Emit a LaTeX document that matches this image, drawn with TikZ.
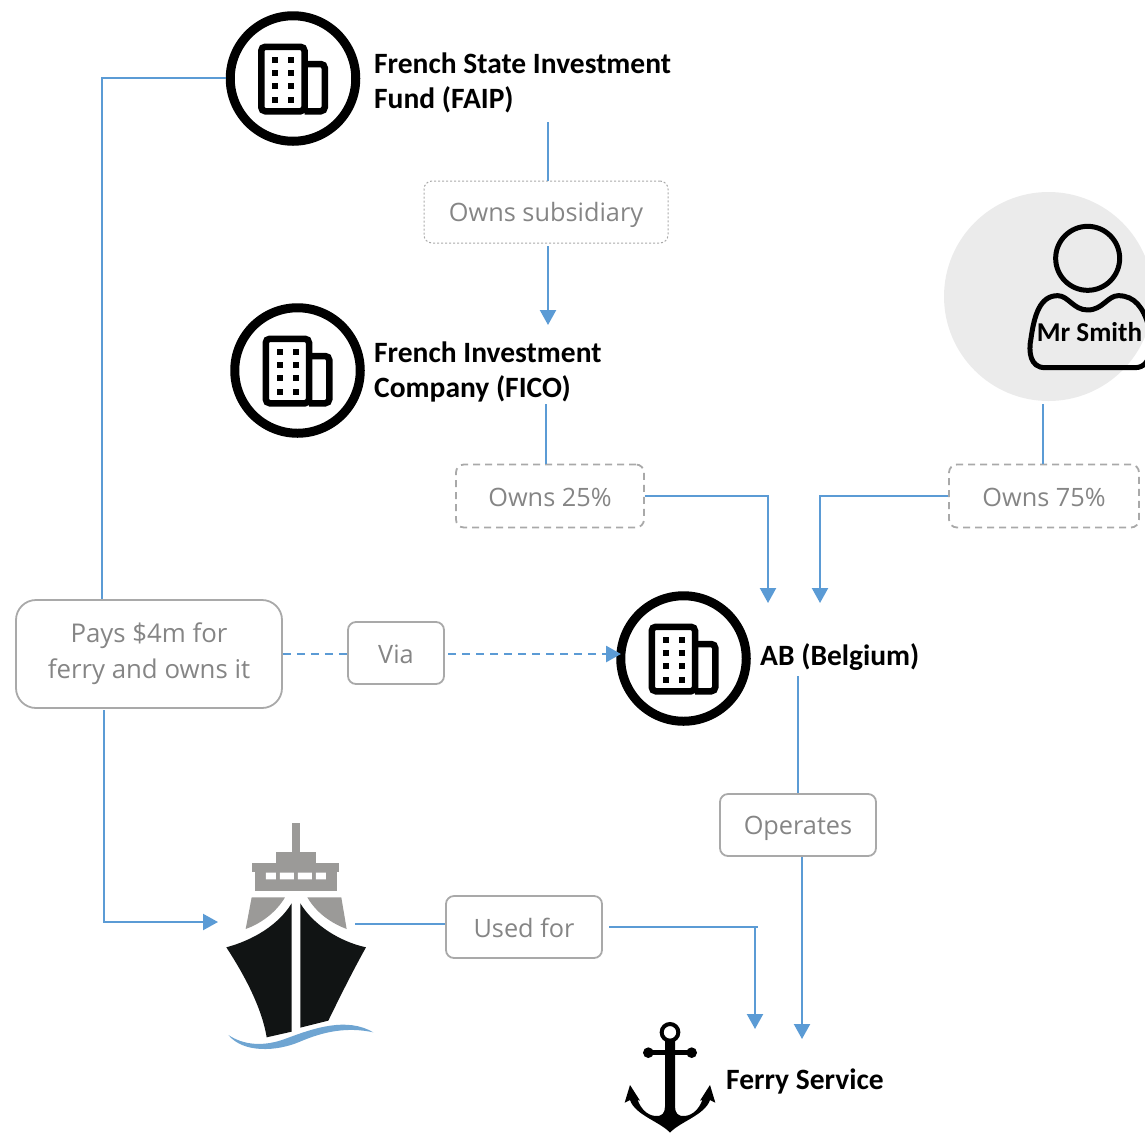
\documentclass[tikz,border=0pt]{standalone}
\usepackage{fontspec}
\setmainfont{Carlito}
\newfontfamily\greyfont{Open Sans}
\usetikzlibrary{arrows.meta}
\definecolor{flow}{HTML}{5B9BD5}
\definecolor{boxline}{HTML}{A9A9A9}
\definecolor{boxtext}{HTML}{858585}
\definecolor{shipgrey}{HTML}{9B9A98}
\definecolor{hull}{HTML}{111414}
\definecolor{wave}{HTML}{6FA5D2}
\definecolor{halo}{HTML}{EBEBEB}
\newcommand{\lblstrut}{\rule[-6pt]{0pt}{32pt}}
\tikzset{
  x=1pt,y=-1pt,
  lbl/.style={rounded corners=8pt,draw=boxline,line width=1.8pt,text=boxtext,inner sep=0pt,align=center,
    font=\greyfont\fontsize{25.3}{36}\selectfont},
  dashbox/.style={lbl,dash pattern=on 7pt off 5pt},
  dotbox/.style={lbl,line width=1pt,dash pattern=on 2pt off 2pt},
  title/.style={anchor=west,align=left,inner sep=0pt,text=black,font=\bfseries\fontsize{29.5}{35}\selectfont},
  orb/.style={circle,draw=black,line width=9pt,minimum size=125.5pt,inner sep=0pt},
  link/.style={draw=flow,line width=2.2pt},
  linkarrow/.style={link,-{Triangle[length=15pt,width=16pt]}},
  linkdash/.style={link,dash pattern=on 8pt off 6pt},
  tower/.pic={
    \draw[line width=6.5pt,rounded corners=4pt] (-31.75,-31.75) rectangle (11.5,32.75);
    \draw[line width=6.5pt,rounded corners=4pt] (11.5,-14.5) -- (31.75,-14.5) -- (31.75,32.75) -- (11.5,32.75);
    \foreach \wx in {-18,-2} \foreach \wy in {-19,-6,7,21}
      \fill (\wx-3,\wy-3) rectangle (\wx+3,\wy+3);
  }
}
\begin{document}
\begin{tikzpicture}
\useasboundingbox (0,0) rectangle (1145,1133);
% halo and person
\fill[halo] (1048.5,296.5) circle (104.5);
\begin{scope}[shift={(935,185)},x=0.3333pt,y=-0.3333pt]
  \draw[line width=5pt] (458,220) circle (96);
  \draw[line width=5pt,line join=round] (368,332) .. controls (400,332) and (415,375) .. (458,375)
    .. controls (503,375) and (518,332) .. (550,332)
    .. controls (600,332) and (625,370) .. (640,420)
    .. controls (652,470) and (655,548) .. (600,548) -- (330,548)
    .. controls (285,548) and (280,500) .. (288,460)
    .. controls (298,390) and (315,332) .. (368,332) -- cycle;
\end{scope}
\node[anchor=center,inner sep=0pt,font=\bfseries\fontsize{27.2}{35}\selectfont] (smith) at (1089.5,332) {Mr Smith};
\coordinate (smithOut) at (1043,404);

% company circles
\node[orb] (faip) at (293,78.5) {};
\pic at (faip.center) {tower};
\node[orb] (fico) at (297.5,370.5) {};
\pic at (fico.center) {tower};
\node[orb] (ab) at (683.5,658.5) {};
\pic at (ab.center) {tower};

% titles
\node[title] (faipT) at (374,83) {French State Investment\\Fund (FAIP)};
\node[title] (ficoT) at (374,372) {French Investment\\Company (FICO)};
\node[title] (abT) at (760,657) {AB (Belgium)};
\node[title] (ferryT) at (726,1081) {Ferry Service};

% labels
\node[dotbox,minimum width=244pt,minimum height=62pt] (sub) at (546,212) {\lblstrut Owns subsidiary};
\node[dashbox,minimum width=188pt,minimum height=63pt] (o25) at (550,496) {\lblstrut Owns 25\%};
\node[dashbox,minimum width=190pt,minimum height=63pt] (o75) at (1044,496) {\lblstrut Owns 75\%};
\node[lbl,rounded corners=20pt,minimum width=266pt,minimum height=108pt,font=\greyfont\fontsize{25.8}{36}\selectfont] (pays) at (149,654) {Pays \$4m for\\ferry and owns it};
\node[lbl,minimum width=96pt,minimum height=62pt] (via) at (396,653) {\lblstrut Via};
\node[lbl,minimum width=156pt,minimum height=62pt] (oper) at (798,825) {\lblstrut Operates};
\node[lbl,minimum width=156pt,minimum height=62pt] (used) at (524,927) {\lblstrut Used for};

% ship
\begin{scope}[shift={(200,810)},x=0.3333pt,y=-0.3333pt]
  \fill[shipgrey] (276,40) rectangle (301,127);
  \fill[shipgrey] (227,127) rectangle (348,160);
  \fill[shipgrey] (156,160) rectangle (416,186);
  \fill[shipgrey] (166,186) rectangle (410,244);
  \fill[white] (198,188) rectangle (228,208) (240,188) rectangle (282,208)
    (294,188) rectangle (336,208) (348,188) rectangle (378,208);
  \fill[shipgrey] (155,262) -- (255,262) .. controls (230,305) and (185,340) .. (137,357) -- cycle;
  \fill[shipgrey] (322,262) -- (424,262) -- (440,357) .. controls (395,340) and (350,310) .. (322,262) -- cycle;
  \fill[hull] (275,280) .. controls (235,345) and (160,390) .. (79,412)
    .. controls (130,490) and (185,590) .. (200,682) -- (275,665) -- cycle;
  \fill[hull] (301,280) .. controls (340,345) and (420,395) .. (498,412)
    .. controls (460,480) and (420,560) .. (385,632) -- (301,653) -- cycle;
  \fill[wave] (85,675) .. controls (130,705) and (190,712) .. (260,685)
    .. controls (340,655) and (440,620) .. (520,667)
    .. controls (440,650) and (370,665) .. (300,695)
    .. controls (230,725) and (130,730) .. (85,675) -- cycle;
\end{scope}
\coordinate (shipIn) at (218,922);
\coordinate (shipOut) at (355,924);

% anchor
\begin{scope}[shift={(610,1000)},x=0.3333pt,y=-0.3333pt]
  \draw[line width=4pt] (180,97) circle (25);
  \fill (112,150) rectangle (248,166);
  \fill (115,158) circle (16) (245,158) circle (16);
  \fill (165,120) -- (165,320) .. controls (165,340) and (155,350) .. (135,348)
    .. controls (110,345) and (92,325) .. (83,300) -- (90,302) -- (60,255) -- (44,308) -- (60,300)
    .. controls (75,345) and (150,365) .. (180,398)
    .. controls (210,365) and (285,345) .. (300,300) -- (316,308) -- (300,255) -- (270,302) -- (277,300)
    .. controls (268,325) and (250,345) .. (225,348)
    .. controls (205,350) and (195,340) .. (195,320) -- (195,120) -- cycle;
\end{scope}
\coordinate (ferryA) at (755,1029);
\coordinate (ferryB) at (802,1039);

% connectors
\coordinate (faipBend) at (102,78);
\draw[link] (faipBend -| faip.west) -- (faipBend) -- (faipBend |- pays.north);
\coordinate (subIn) at (548,122);
\draw[link] (subIn) -- (subIn |- sub.north);
\coordinate (subOut) at (548,246);
\coordinate (ficoIn) at (548,325);
\draw[linkarrow] (subOut) -- (ficoIn);
\coordinate (ficoOut) at (546,404);
\draw[link] (ficoOut) -- (ficoOut |- o25.north);
\coordinate (abL) at (768,603);
\coordinate (abR) at (820,603);
\draw[linkarrow] (o25.east) -- (abL |- o25.east) -- (abL);
\draw[link] (smithOut) -- (smithOut |- o75.north);
\draw[linkarrow] (o75.west) -- (abR |- o75.west) -- (abR);
\draw[linkdash,line width=1.6pt] (pays.east) -- (via.west |- pays.east);
\coordinate (viaOut) at (448,654);
\coordinate (abIn) at (621,654);
\draw[linkdash,-{Triangle[length=15pt,width=16pt]},line width=2.8pt] (viaOut) -- (abIn);
\coordinate (paysOut) at (104,710);
\draw[linkarrow] (paysOut) -- (paysOut |- shipIn) -- (shipIn);
\coordinate (abOut) at (798,676);
\draw[link] (abOut) -- (abOut |- oper.north);
\coordinate (operOut) at (802,857);
\draw[linkarrow] (operOut) -- (ferryB);
\draw[link] (shipOut) -- (shipOut -| used.west);
\coordinate (usedOut) at (609,927);
\coordinate (usedEnd) at (758,927);
\draw[link] (usedOut) -- (usedEnd);
\draw[linkarrow] (ferryA |- usedEnd) -- (ferryA);
\end{tikzpicture}
\end{document}
